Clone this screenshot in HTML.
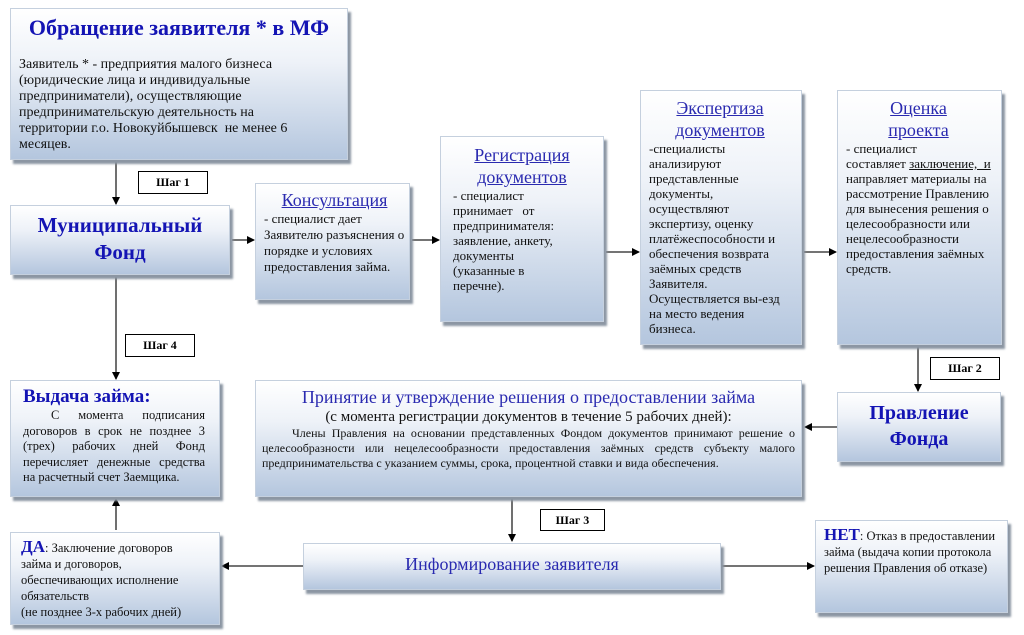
<!DOCTYPE html>
<html><head><meta charset="utf-8"><style>
body{margin:0;width:1024px;height:635px;background:#fff;position:relative;overflow:hidden;font-family:"Liberation Serif","DejaVu Serif",serif;}
.b{position:absolute;box-sizing:border-box;border:1px solid #c5d0de;background:linear-gradient(#ffffff 0%,#eef2f8 35%,#b4c6de 100%);box-shadow:3px 4px 2px #8c96a3;color:#111;}
.t{color:#1414b4;font-weight:bold;text-align:center;}
.u{color:#2a2ab0;text-decoration:underline;text-align:center;font-size:18px;line-height:22px;}
.s{position:absolute;border:1px solid #000;background:#fff;font-weight:bold;font-size:12px;text-align:center;box-sizing:border-box;line-height:20px;}
.p{font-size:13px;line-height:15px;}
svg{position:absolute;left:0;top:0;}
</style></head><body>
<svg width="1024" height="635"><defs><marker id="a" markerWidth="8" markerHeight="8" refX="7" refY="4" orient="auto" markerUnits="userSpaceOnUse"><path d="M0,0L8,4L0,8z" fill="#000"/></marker></defs>
<g stroke="#222" stroke-width="1.3" fill="none" marker-end="url(#a)">
<line x1="116" y1="162" x2="116" y2="204"/>
<line x1="232" y1="240" x2="254" y2="240"/>
<line x1="412" y1="240" x2="439" y2="240"/>
<line x1="606" y1="252" x2="639" y2="252"/>
<line x1="804" y1="252" x2="836" y2="252"/>
<line x1="918" y1="347" x2="918" y2="391"/>
<line x1="837" y1="427" x2="805" y2="427"/>
<line x1="116" y1="277" x2="116" y2="379"/>
<line x1="512" y1="499" x2="512" y2="541"/>
<line x1="303" y1="566" x2="222" y2="566"/>
<line x1="721" y1="566" x2="814" y2="566"/>
<line x1="116" y1="530" x2="116" y2="499"/>
</g></svg>

<div class="b" style="left:10px;top:8px;width:338px;height:152px;padding:0 52px 0 8px;">
<div class="t" style="font-size:22px;margin-top:6px;margin-right:-44px;">Обращение заявителя * в МФ</div>
<div style="font-size:14px;line-height:16px;margin-top:16px;">Заявитель * - предприятия малого бизнеса (юридические лица и индивидуальные предприниматели), осуществляющие предпринимательскую деятельность на территории г.о. Новокуйбышевск&nbsp; не менее 6 месяцев.</div></div>

<div class="s" style="left:138px;top:171px;width:70px;height:23px;">Шаг 1</div>
<div class="s" style="left:125px;top:334px;width:70px;height:23px;">Шаг 4</div>
<div class="s" style="left:930px;top:357px;width:70px;height:23px;">Шаг 2</div>
<div class="s" style="left:540px;top:509px;width:65px;height:22px;">Шаг 3</div>

<div class="b" style="left:10px;top:205px;width:220px;height:70px;">
<div class="t" style="font-size:21px;line-height:27px;margin-top:6px;">Муниципальный<br>Фонд</div></div>

<div class="b" style="left:255px;top:183px;width:155px;height:117px;padding:0 4px 0 8px;">
<div class="u" style="margin-top:5px;">Консультация</div>
<div class="p" style="line-height:16px;">- специалист дает Заявителю разъяснения о порядке и условиях предоставления займа.</div></div>

<div class="b" style="left:440px;top:136px;width:164px;height:186px;padding:0 26px 0 12px;">
<div class="u" style="margin-top:7px;margin-right:-14px;">Регистрация<br>документов</div>
<div class="p">- специалист принимает&nbsp;&nbsp; от предпринимателя: заявление, анкету, документы (указанные в перечне).</div></div>

<div class="b" style="left:640px;top:90px;width:162px;height:255px;padding:0 10px 0 8px;">
<div class="u" style="margin-top:6px;">Экспертиза<br>документов</div>
<div class="p">-специалисты анализируют представленные документы, осуществляют экспертизу, оценку платёжеспособности и обеспечения возврата заёмных средств Заявителя. Осуществляется вы-езд на место ведения бизнеса.</div></div>

<div class="b" style="left:837px;top:90px;width:165px;height:255px;padding:0 10px 0 8px;">
<div class="u" style="margin-top:6px;">Оценка<br>проекта</div>
<div class="p">- специалист<br>составляет <u>заключение, &nbsp;и</u> направляет материалы на рассмотрение Правлению для вынесения решения о целесообразности или нецелесообразности предоставления заёмных средств.</div></div>

<div class="b" style="left:837px;top:392px;width:164px;height:70px;">
<div class="t" style="font-size:20px;line-height:26px;margin-top:7px;">Правление<br>Фонда</div></div>

<div class="b" style="left:10px;top:380px;width:210px;height:117px;padding:0 14px 0 12px;">
<div class="t" style="font-size:19px;text-align:left;margin-top:5px;">Выдача займа:</div>
<div style="font-size:12.5px;line-height:15.5px;text-align:justify;text-indent:28px;">С момента подписания договоров в срок не позднее 3 (трех) рабочих дней Фонд перечисляет денежные средства на расчетный счет Заемщика.</div></div>

<div class="b" style="left:255px;top:380px;width:547px;height:117px;padding:0 6px;">
<div style="color:#2a2ab0;font-size:18px;text-align:center;margin-top:6px;">Принятие и утверждение решения о предоставлении займа</div>
<div style="font-size:15px;text-align:center;line-height:18px;">(с момента регистрации документов в течение 5 рабочих дней):</div>
<div style="font-size:12px;line-height:15px;text-align:justify;text-indent:30px;">Члены Правления на основании представленных Фондом документов принимают решение о целесообразности или нецелесообразности предоставления заёмных средств субъекту малого предпринимательства с указанием суммы, срока, процентной ставки и вида обеспечения.</div></div>

<div class="b" style="left:303px;top:543px;width:418px;height:47px;">
<div style="color:#2a2ab0;font-size:18px;text-align:center;margin-top:10px;">Информирование заявителя</div></div>

<div class="b" style="left:10px;top:532px;width:210px;height:93px;padding:0 20px 0 10px;">
<div style="font-size:12.5px;line-height:16px;margin-top:6px;"><span class="t" style="font-size:17px;">ДА</span>: Заключение договоров займа и договоров, обеспечивающих исполнение обязательств<br>(не позднее 3-х рабочих дней)</div></div>

<div class="b" style="left:815px;top:520px;width:193px;height:93px;padding:0 6px 0 8px;">
<div style="font-size:12.5px;line-height:16px;margin-top:6px;"><span class="t" style="font-size:17px;">НЕТ</span>: Отказ в предоставлении займа (выдача копии протокола решения Правления об отказе)</div></div>
</body></html>
